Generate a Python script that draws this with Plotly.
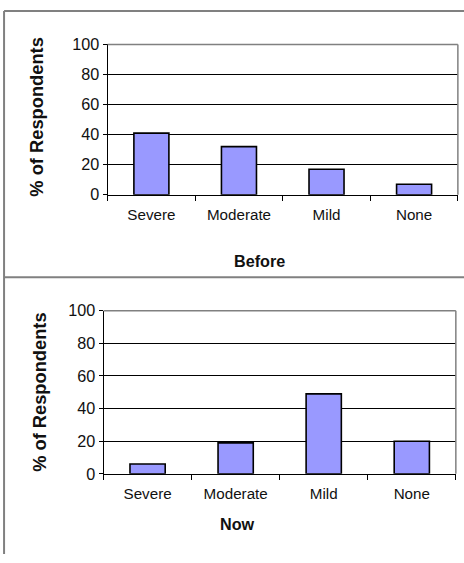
import plotly.graph_objects as go

categories = ["Severe", "Moderate", "Mild", "None"]
before_values = [41, 32, 17, 7]
now_values = [6, 19, 49, 20]
y_ticks = [0, 20, 40, 60, 80, 100]
y_title = "% of Respondents"
title_before = "Before"
title_now = "Now"

W, H = 464, 563
S = 1 / 0.985  # compensates the slight shrink of the page when photographed

def px_x(x):
    return min(1.0, x * S / W)

def px_y(y):
    return max(0.0, 1 - y * S / H)

def fs(size):
    return round(size * S, 1)

fig = go.Figure()
bar_style = dict(marker=dict(color="#9999FF", line=dict(color="#000000", width=1.6)),
                 showlegend=False, hoverinfo="x+y")
fig.add_trace(go.Bar(x=categories, y=before_values, xaxis="x", yaxis="y", **bar_style))
fig.add_trace(go.Bar(x=categories, y=now_values, xaxis="x2", yaxis="y2", **bar_style))

font_family = "Arial, Liberation Sans, sans-serif"
xcommon = dict(type="category", showline=True, linecolor="#000000", linewidth=1,
               ticks="outside", tickson="boundaries", ticklen=5, tickcolor="#000000",
               showgrid=False, zeroline=False, ticklabelstandoff=6,
               tickfont=dict(family=font_family, size=fs(15), color="#111111"),
               fixedrange=True)
ycommon = dict(range=[0, 100], tickvals=y_ticks, showline=True, linecolor="#000000",
               linewidth=1, ticks="outside", ticklen=4, tickcolor="#000000",
               showgrid=True, gridcolor="#000000", gridwidth=1, zeroline=False,
               tickfont=dict(family=font_family, size=fs(16), color="#111111"),
               fixedrange=True)

top = dict(x0=106, x1=451, y0=36, y1=189)
bot = dict(x0=102, x1=449, y0=307, y1=473)

fig.update_layout(
    width=W, height=H,
    margin=dict(l=0, r=0, t=0, b=0),
    paper_bgcolor="white", plot_bgcolor="white",
    bargap=0.6,
    xaxis=dict(domain=[px_x(top["x0"]), px_x(top["x1"])], anchor="y", **xcommon),
    yaxis=dict(domain=[px_y(top["y1"]), px_y(top["y0"])], anchor="x", **ycommon),
    xaxis2=dict(domain=[px_x(bot["x0"]), px_x(bot["x1"])], anchor="y2", **xcommon),
    yaxis2=dict(domain=[px_y(bot["y1"]), px_y(bot["y0"])], anchor="x2", **ycommon),
)

shapes = []
frame = dict(color="#808080", width=2)
# outer frames
shapes.append(dict(type="line", xref="paper", yref="paper", x0=px_x(4), x1=px_x(4),
                   y0=px_y(2), y1=0, line=frame))
shapes.append(dict(type="line", xref="paper", yref="paper", x0=px_x(4), x1=1,
                   y0=px_y(2), y1=px_y(2), line=frame))
shapes.append(dict(type="line", xref="paper", yref="paper", x0=px_x(4), x1=1,
                   y0=px_y(273), y1=px_y(273), line=frame))
# plot area top/right borders (gray)
for xa, ya in (("x", "y"), ("x2", "y2")):
    shapes.append(dict(type="line", xref=f"{xa} domain", yref=f"{ya} domain",
                       x0=0, x1=1, y0=1, y1=1, line=dict(color="#808080", width=1.5)))
    shapes.append(dict(type="line", xref=f"{xa} domain", yref=f"{ya} domain",
                       x0=1, x1=1, y0=0, y1=1, line=dict(color="#808080", width=1.5)))
fig.update_layout(shapes=shapes)

ann = []
ytitle_font = dict(family=font_family, size=fs(18), color="#111111")
ann.append(dict(text=f"<b>{y_title}</b>", xref="paper", yref="paper",
                x=px_x(36), y=px_y(110), textangle=-90, showarrow=False,
                font=ytitle_font, xanchor="center", yanchor="middle"))
ann.append(dict(text=f"<b>{y_title}</b>", xref="paper", yref="paper",
                x=px_x(39), y=px_y(390), textangle=-90, showarrow=False,
                font=ytitle_font, xanchor="center", yanchor="middle"))
xt_font = dict(family=font_family, size=fs(16), color="#111111")
ann.append(dict(text=f"<b>{title_before}</b>", xref="paper", yref="paper",
                x=px_x(256), y=px_y(256), showarrow=False, font=xt_font,
                xanchor="center", yanchor="middle"))
ann.append(dict(text=f"<b>{title_now}</b>", xref="paper", yref="paper",
                x=px_x(234), y=px_y(524), showarrow=False, font=xt_font,
                xanchor="center", yanchor="middle"))
fig.update_layout(annotations=ann)

fig.write_html("out.html", config={"displayModeBar": False},
               post_script="document.body.style.margin='0px';")
